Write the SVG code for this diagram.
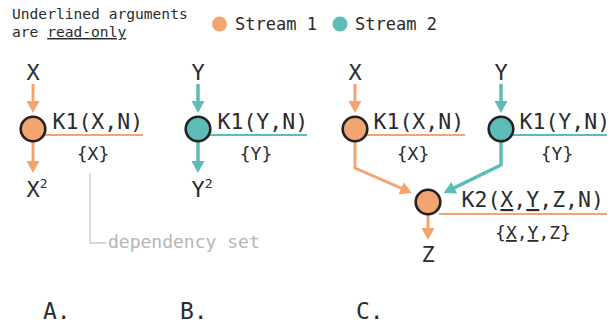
<svg xmlns="http://www.w3.org/2000/svg" width="611" height="324" viewBox="0 0 611 324">
  <style>
    text { font-family: "DejaVu Sans Mono", "Liberation Mono", monospace; fill: #2b2b2b; }
    .note { font-size: 14.6px; }
    .legend { font-size: 17px; }
    .var { font-size: 22px; text-anchor: middle; }
    .kern { font-size: 21.5px; }
    .dep { font-size: 18px; text-anchor: middle; }
    .panel { font-size: 23px; }
    .hint { font-size: 18px; fill: #b5b5b5; }
    .s1 { fill: #f2a471; }
    .s2 { fill: #5bbdb5; }
    .node { stroke: #222; stroke-width: 2.6; }
    .rule1 { stroke: #f2a471; stroke-width: 2; fill: none; }
    .rule2 { stroke: #5bbdb5; stroke-width: 2; fill: none; }
    .flow1 { stroke: #f2a471; stroke-width: 3; fill: none; stroke-linejoin: round; }
    .flow2 { stroke: #5bbdb5; stroke-width: 3.5; fill: none; stroke-linejoin: round; }
    .ul { text-decoration: underline; }
  </style>
  <defs>
    <marker id="head1" markerUnits="userSpaceOnUse" markerWidth="14" markerHeight="14" refX="3" refY="6.5" orient="auto">
      <path d="M0,0 L12,6.5 L0,13 Z" fill="#f2a471"/>
    </marker>
    <marker id="head2" markerUnits="userSpaceOnUse" markerWidth="14" markerHeight="14" refX="3" refY="6.5" orient="auto">
      <path d="M0,0 L12,6.5 L0,13 Z" fill="#5bbdb5"/>
    </marker>
  </defs>

  <!-- header note and legend -->
  <g id="note">
    <text class="note" x="12" y="19">Underlined arguments</text>
    <text class="note" x="12" y="37">are <tspan class="ul">read-only</tspan></text>
  </g>
  <g id="legend">
    <circle class="s1" cx="219.5" cy="24" r="7.5"/>
    <text class="legend" x="235" y="30">Stream 1</text>
    <circle class="s2" cx="340" cy="24" r="7.5"/>
    <text class="legend" x="355" y="30">Stream 2</text>
  </g>

  <!-- data flow -->
  <g id="connectors">
    <line class="flow1" x1="33" y1="84" x2="33" y2="104" marker-end="url(#head1)"/>
    <line class="flow1" x1="33" y1="142" x2="33" y2="164" marker-end="url(#head1)"/>
    <line class="flow2" x1="198" y1="84" x2="198" y2="104" marker-end="url(#head2)"/>
    <line class="flow2" x1="198" y1="142" x2="198" y2="164" marker-end="url(#head2)"/>
    <line class="flow1" x1="355" y1="84" x2="355" y2="104" marker-end="url(#head1)"/>
    <line class="flow2" x1="501" y1="84" x2="501" y2="104" marker-end="url(#head2)"/>
    <path class="flow1" d="M355,142 V168 L403.8,189.4" marker-end="url(#head1)"/>
    <path class="flow2" d="M501,142 V165 L451.6,189.1" marker-end="url(#head2)"/>
    <line class="flow1" x1="428" y1="215" x2="428" y2="231" marker-end="url(#head1)"/>
    <path d="M90,173 V243 H106" fill="none" stroke="#c8c8c8" stroke-width="1.3"/>
  </g>

  <!-- A. -->
  <g id="a-input"><text class="var" x="33" y="80">X</text></g>
  <g id="a-k1">
    <line class="rule1" x1="45" y1="135" x2="143" y2="135"/>
    <circle class="s1 node" cx="33" cy="129" r="12.3"/>
    <text class="kern" x="52.5" y="129">K1(X,N)</text>
    <text class="dep" x="93" y="160">{X}</text>
  </g>
  <g id="a-output"><text class="var" x="37" y="197">X<tspan font-size="13" dy="-9">2</tspan></text></g>
  <g id="dep-hint"><text class="hint" x="108" y="248">dependency set</text></g>

  <!-- B. -->
  <g id="b-input"><text class="var" x="198" y="80">Y</text></g>
  <g id="b-k1">
    <line class="rule2" x1="210" y1="135" x2="307" y2="135"/>
    <circle class="s2 node" cx="198" cy="129" r="12.3"/>
    <text class="kern" x="217.5" y="129">K1(Y,N)</text>
    <text class="dep" x="256" y="160">{Y}</text>
  </g>
  <g id="b-output"><text class="var" x="202" y="197">Y<tspan font-size="13" dy="-9">2</tspan></text></g>

  <!-- C. -->
  <g id="c-input-x"><text class="var" x="355" y="80">X</text></g>
  <g id="c-k1x">
    <line class="rule1" x1="367" y1="135" x2="465" y2="135"/>
    <circle class="s1 node" cx="355" cy="129" r="12.3"/>
    <text class="kern" x="373.5" y="129">K1(X,N)</text>
    <text class="dep" x="413" y="160">{X}</text>
  </g>
  <g id="c-input-y"><text class="var" x="501" y="80">Y</text></g>
  <g id="c-k1y">
    <line class="rule2" x1="513" y1="135" x2="607" y2="135"/>
    <circle class="s2 node" cx="501" cy="129" r="12.3"/>
    <text class="kern" x="519.5" y="129">K1(Y,N)</text>
    <text class="dep" x="557" y="160">{Y}</text>
  </g>
  <g id="c-k2">
    <line class="rule1" x1="439" y1="214" x2="607" y2="214"/>
    <circle class="s1 node" cx="428" cy="202" r="12.3"/>
    <text class="kern" x="461.5" y="207">K2(<tspan class="ul">X</tspan>,<tspan class="ul">Y</tspan>,Z,N)</text>
    <text class="dep" x="533" y="239">{<tspan class="ul">X</tspan>,<tspan class="ul">Y</tspan>,Z}</text>
  </g>
  <g id="c-output"><text class="var" x="428" y="262">Z</text></g>

  <!-- panel captions -->
  <g id="captions">
    <text class="panel" x="43" y="319">A.</text>
    <text class="panel" x="180" y="319">B.</text>
    <text class="panel" x="356" y="319">C.</text>
  </g>
</svg>
